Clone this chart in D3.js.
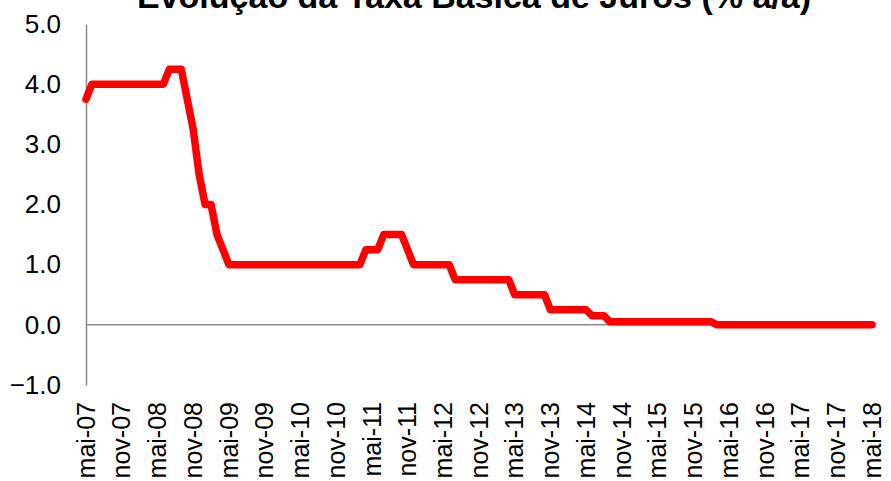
<!DOCTYPE html>
<meta charset="utf-8">
<style>
  body { margin: 0; background: #fff; }
  text { font-family: "Liberation Sans", Arial, sans-serif; fill: #000; }
</style>
<body>
<svg width="891" height="481"></svg>
<script src="https://cdn.jsdelivr.net/npm/d3@7"></script>
<script>

    // Taxa mensal (% a.a), mai-07 ... mai-18
    var rates = [
        3.75,
        4.0, 4.0, 4.0, 4.0, 4.0, 4.0, 4.0, 4.0, 4.0, 4.0, 4.0, 4.0, 4.0,
        4.25, 4.25, 4.25,
        3.75, 3.25, 2.5, 2.0, 2.0, 1.5, 1.25,
        1.0, 1.0, 1.0, 1.0, 1.0, 1.0, 1.0, 1.0, 1.0, 1.0, 1.0, 1.0,
        1.0, 1.0, 1.0, 1.0, 1.0, 1.0, 1.0, 1.0, 1.0, 1.0, 1.0,
        1.25, 1.25, 1.25,
        1.5, 1.5, 1.5, 1.5,
        1.25,
        1.0, 1.0, 1.0, 1.0, 1.0, 1.0, 1.0,
        0.75, 0.75, 0.75, 0.75, 0.75, 0.75, 0.75, 0.75, 0.75, 0.75,
        0.5, 0.5, 0.5, 0.5, 0.5, 0.5,
        0.25, 0.25, 0.25, 0.25, 0.25, 0.25, 0.25,
        0.15, 0.15, 0.15,
        0.05, 0.05, 0.05, 0.05, 0.05, 0.05, 0.05, 0.05, 0.05,
        0.05, 0.05, 0.05, 0.05, 0.05, 0.05, 0.05, 0.05, 0.05,
        0.0, 0.0, 0.0, 0.0, 0.0, 0.0, 0.0, 0.0, 0.0, 0.0, 0.0, 0.0, 0.0, 0.0,
        0.0, 0.0, 0.0, 0.0, 0.0, 0.0, 0.0, 0.0, 0.0, 0.0, 0.0, 0.0, 0.0
    ];

    var tickLabels = ["mai-07", "nov-07", "mai-08", "nov-08", "mai-09", "nov-09",
        "mai-10", "nov-10", "mai-11", "nov-11", "mai-12", "nov-12", "mai-13",
        "nov-13", "mai-14", "nov-14", "mai-15", "nov-15", "mai-16", "nov-16",
        "mai-17", "nov-17", "mai-18"];

    var yTicks = [-1, 0, 1, 2, 3, 4, 5];

    var title = "Evolução da Taxa Básica de Juros (% a/a)";

    // categorias mensais
    var monthNames = ["jan", "fev", "mar", "abr", "mai", "jun", "jul", "ago", "set", "out", "nov", "dez"];
    var categories = rates.map(function (d, i) {
        var m = 4 + i;
        return monthNames[m % 12] + "-" + d3.format("02")((7 + Math.floor(m / 12)) % 100);
    });

    var svg = d3.select("svg");

    var x = d3.scalePoint()
        .domain(categories)
        .range([86, 872]);

    var y = d3.scaleLinear()
        .domain([-1, 5])
        .range([385, 24]);

    // title (partly cut at the top, as in the original)
    svg.append("text")
        .attr("x", 474)
        .attr("y", 8)
        .attr("text-anchor", "middle")
        .style("font-size", "34px")
        .style("font-weight", "bold")
        .text(title);

    // y axis
    var yAxis = svg.append("g")
        .attr("transform", "translate(86,0)")
        .call(d3.axisLeft(y).tickValues(yTicks).tickSize(0).tickPadding(25)
            .tickFormat(d3.format(".1f")));
    yAxis.select(".domain").attr("stroke", "#898989").attr("stroke-width", 1.5);
    yAxis.selectAll("text")
        .style("font-size", "26px")
        .style("font-family", "'Liberation Sans', Arial, sans-serif");

    // zero line
    svg.append("line")
        .attr("x1", 86)
        .attr("x2", 876)
        .attr("y1", y(0))
        .attr("y2", y(0))
        .attr("stroke", "#898989")
        .attr("stroke-width", 1.5);

    // x labels
    svg.append("g")
        .selectAll("text")
        .data(tickLabels)
        .enter().append("text")
        .attr("transform", function (d) {
            return "translate(" + x(d) + ",402) rotate(-90)";
        })
        .attr("dy", "0.35em")
        .attr("text-anchor", "end")
        .style("font-size", "25px")
        .text(function (d) { return d; });

    // line
    var line = d3.line()
        .x(function (d, i) { return x(categories[i]); })
        .y(function (d) { return y(d); });

    svg.append("path")
        .datum(rates)
        .attr("fill", "none")
        .attr("stroke", "#ff0000")
        .attr("stroke-width", 7.5)
        .attr("stroke-linejoin", "round")
        .attr("stroke-linecap", "round")
        .attr("d", line);

</script>
</body>
